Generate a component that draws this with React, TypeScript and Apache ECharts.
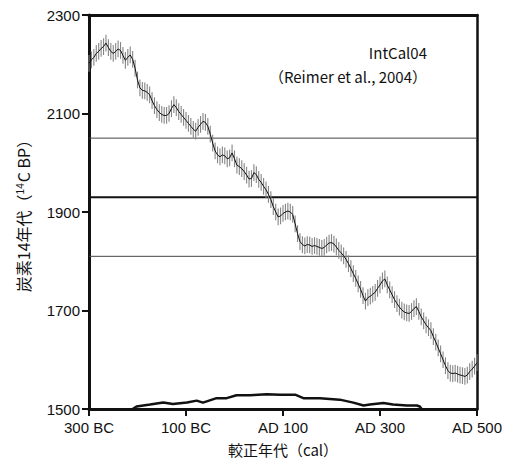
import React, { useEffect, useRef } from "react";
import * as echarts from "echarts";

// IntCal04 calibration curve: [cal year (negative = BC), 14C BP]
const calibrationCurve: [number, number][] = [
  [-300, 2202], [-295, 2209], [-290, 2214], [-285, 2222], [-280, 2226], [-275, 2232],
  [-270, 2236], [-265, 2243], [-260, 2234], [-255, 2226], [-250, 2222], [-245, 2226],
  [-240, 2231], [-235, 2228], [-230, 2218], [-225, 2208], [-220, 2214], [-215, 2219],
  [-210, 2210], [-205, 2192], [-200, 2168], [-195, 2152], [-190, 2147], [-185, 2146],
  [-180, 2143], [-175, 2138], [-170, 2126], [-165, 2116], [-160, 2108], [-155, 2102],
  [-150, 2098], [-145, 2096], [-140, 2096], [-135, 2100], [-130, 2110], [-125, 2118],
  [-120, 2112], [-115, 2104], [-110, 2098], [-105, 2092], [-100, 2086], [-95, 2080],
  [-90, 2074], [-85, 2068], [-80, 2064], [-75, 2072], [-70, 2078], [-65, 2084],
  [-60, 2082], [-55, 2074], [-50, 2058], [-45, 2040], [-40, 2024], [-35, 2016],
  [-30, 2012], [-25, 2016], [-20, 2014], [-15, 2008], [-10, 2010], [-5, 2020],
  [0, 2008], [5, 1995], [10, 1992], [15, 1988], [20, 1982], [25, 1975],
  [30, 1967], [35, 1968], [40, 1980], [45, 1976], [50, 1966], [55, 1960],
  [60, 1952], [65, 1945], [70, 1936], [75, 1925], [80, 1911], [85, 1900],
  [90, 1890], [95, 1892], [100, 1897], [105, 1900], [110, 1902], [115, 1900],
  [120, 1895], [125, 1876], [130, 1856], [135, 1840], [140, 1834], [145, 1831],
  [150, 1834], [155, 1833], [160, 1830], [165, 1832], [170, 1830], [175, 1828],
  [180, 1826], [185, 1828], [190, 1833], [195, 1837], [200, 1838], [205, 1835],
  [210, 1829], [215, 1822], [220, 1817], [225, 1811], [230, 1804], [235, 1795],
  [240, 1785], [245, 1775], [250, 1765], [255, 1754], [260, 1743], [265, 1730],
  [270, 1719], [275, 1726], [280, 1729], [285, 1733], [290, 1737], [295, 1745],
  [300, 1752], [305, 1760], [310, 1764], [315, 1752], [320, 1742], [325, 1732],
  [330, 1722], [335, 1714], [340, 1707], [345, 1701], [350, 1697], [355, 1695],
  [360, 1694], [365, 1698], [370, 1704], [375, 1708], [380, 1698], [385, 1687],
  [390, 1679], [395, 1671], [400, 1665], [405, 1659], [410, 1647], [415, 1636],
  [420, 1624], [425, 1612], [430, 1600], [435, 1588], [440, 1578], [445, 1573],
  [450, 1572], [455, 1573], [460, 1571], [465, 1569], [470, 1568], [475, 1566],
  [480, 1569], [485, 1576], [490, 1581], [495, 1587], [500, 1594],
];

// 1-sigma half width of the grey error bars (14C years)
const curveError = 17;

// Measured date and its range: 1930 ± 120 BP
const measuredLines = [2050, 1930, 1810];

// Calibrated probability distribution drawn along the bottom axis
const probabilityCurve: [number, number][] = [
  [-210, 1500], [-202, 1505], [-174, 1509], [-147, 1513], [-127, 1510], [-98, 1513],
  [-78, 1517], [-65, 1513], [-37, 1522], [-16, 1522], [4, 1528], [32, 1528],
  [66, 1530], [94, 1529], [125, 1529], [142, 1522], [176, 1522], [217, 1519],
  [245, 1513], [266, 1507], [279, 1509], [307, 1512], [327, 1509], [355, 1507],
  [376, 1507], [382, 1505], [386, 1500],
];

const xTicks = [-300, -100, 100, 300, 500];
const yTicks = [1500, 1700, 1900, 2100, 2300];

const LATIN = "Liberation Sans";
const CJK = "Noto Sans CJK JP";

export default function App() {
  const ref = useRef<HTMLDivElement>(null);

  useEffect(() => {
    if (!ref.current) return;
    const chart = echarts.init(ref.current, undefined, { renderer: "svg" });

    const axisColor = "#111";
    const tickLen = 7;

    const option: any = {
      animation: false,
      backgroundColor: "#fff",
      grid: { left: 89, right: 32, top: 15, bottom: 57, containLabel: false },
      xAxis: [
        {
          type: "value",
          min: -300,
          max: 500,
          position: "bottom",
          axisLine: { show: true, onZero: false, lineStyle: { color: axisColor, width: 3 } },
          axisTick: {
            show: true,
            inside: false,
            length: tickLen,
            customValues: xTicks,
            lineStyle: { color: axisColor, width: 2 },
          },
          axisLabel: {
            customValues: xTicks,
            margin: 11,
            fontSize: 15,
            fontFamily: LATIN,
            color: "#111",
            formatter: (v: number) => (v < 0 ? `${-v} BC` : `AD ${v}`),
          },
          splitLine: { show: false },
          name: "較正年代（cal）",
          nameLocation: "middle",
          nameGap: 33,
          nameTextStyle: { fontSize: 15, fontFamily: CJK, color: "#111" },
        },
        {
          type: "value",
          min: -300,
          max: 500,
          position: "top",
          axisLine: { show: true, onZero: false, lineStyle: { color: axisColor, width: 3 } },
          axisTick: { show: false },
          axisLabel: { show: false },
          splitLine: { show: false },
        },
      ],
      yAxis: [
        {
          type: "value",
          min: 1500,
          max: 2300,
          position: "left",
          axisLine: { show: true, onZero: false, lineStyle: { color: axisColor, width: 3 } },
          axisTick: {
            show: true,
            inside: false,
            length: tickLen,
            customValues: yTicks,
            lineStyle: { color: axisColor, width: 2 },
          },
          axisLabel: {
            customValues: yTicks,
            margin: 9,
            fontSize: 15,
            fontFamily: LATIN,
            color: "#111",
            padding: [0, 0, 5, 0],
            formatter: (v: number) => String(v),
          },
          splitLine: { show: false },
          name: "炭素14年代（{sup|14}C BP）",
          nameLocation: "middle",
          nameGap: 58,
          nameRotate: 90,
          nameTextStyle: {
            fontSize: 16,
            fontFamily: CJK,
            color: "#111",
            rich: {
              sup: {
                fontSize: 10,
                fontFamily: LATIN,
                color: "#111",
                verticalAlign: "top",
                lineHeight: 10,
                padding: [0, 1, 6, 0],
              },
            },
          },
        },
        {
          type: "value",
          min: 1500,
          max: 2300,
          position: "right",
          axisLine: { show: true, onZero: false, lineStyle: { color: axisColor, width: 2.5 } },
          axisTick: { show: false },
          axisLabel: { show: false },
          splitLine: { show: false },
        },
      ],
      graphic: [
        {
          type: "text",
          x: 427,
          y: 52,
          style: {
            text: "IntCal04",
            align: "right",
            verticalAlign: "middle",
            fontSize: 15,
            fontFamily: CJK,
            fill: "#111",
          },
        },
        {
          type: "text",
          x: 427,
          y: 76,
          style: {
            text: "（Reimer et al., 2004）",
            align: "right",
            verticalAlign: "middle",
            fontSize: 15,
            fontFamily: CJK,
            fill: "#111",
          },
        },
      ],
      series: [
        ...measuredLines.map((v, i) => ({
          type: "line",
          xAxisIndex: 0,
          yAxisIndex: 0,
          data: [
            [-300, v],
            [500, v],
          ],
          symbol: "none",
          silent: true,
          lineStyle: {
            color: i === 1 ? "#111" : "#444",
            width: i === 1 ? 2.2 : 1,
          },
          z: 1,
        })),
        {
          type: "custom",
          xAxisIndex: 0,
          yAxisIndex: 0,
          data: calibrationCurve,
          encode: { x: 0, y: 1 },
          silent: true,
          z: 2,
          renderItem: (_params: any, api: any) => {
            const x = api.value(0);
            const y = api.value(1);
            const lo = api.coord([x, y - curveError]);
            const hi = api.coord([x, y + curveError]);
            return {
              type: "line",
              shape: { x1: lo[0], y1: lo[1], x2: hi[0], y2: hi[1] },
              style: { stroke: "#858585", lineWidth: 1.1 },
            };
          },
        },
        {
          type: "line",
          xAxisIndex: 0,
          yAxisIndex: 0,
          data: calibrationCurve,
          symbol: "none",
          silent: true,
          lineStyle: { color: "#111", width: 1 },
          z: 3,
        },
        {
          type: "line",
          xAxisIndex: 0,
          yAxisIndex: 0,
          data: probabilityCurve,
          symbol: "none",
          silent: true,
          lineStyle: { color: "#111", width: 2.5 },
          z: 4,
        },
      ],
    };

    chart.setOption(option);
    return () => {
      chart.dispose();
    };
  }, []);

  return (
    <div
      ref={ref}
      style={{ position: "absolute", left: 0, top: 0, width: 509, height: 466 }}
    />
  );
}
